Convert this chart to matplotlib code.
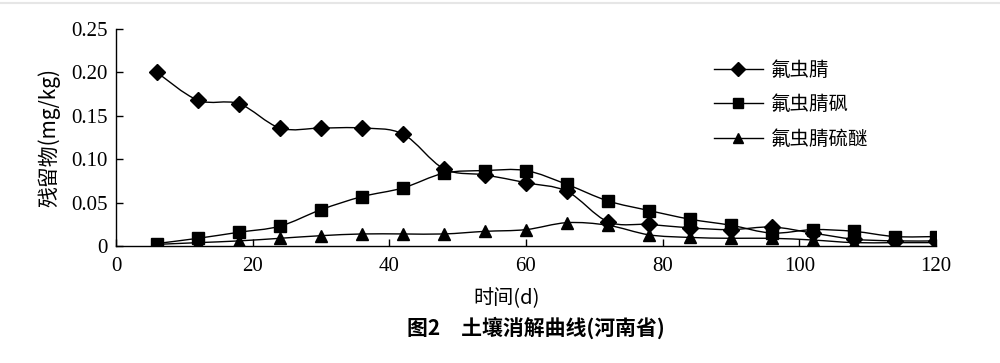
import numpy as np
import matplotlib
matplotlib.use("Agg")
import matplotlib.pyplot as plt
from matplotlib.path import Path
from matplotlib.patches import PathPatch
from matplotlib.lines import Line2D

days = [6, 12, 18, 24, 30, 36, 42, 48, 54, 60, 66, 72, 78, 84, 90, 96, 102, 108, 114, 120]
fipronil = [0.200, 0.168, 0.164, 0.136, 0.136, 0.136, 0.129, 0.089, 0.082, 0.073,
            0.063, 0.028, 0.025, 0.021, 0.019, 0.022, 0.015, 0.008, 0.006, 0.006]
sulfone = [0.003, 0.009, 0.016, 0.023, 0.042, 0.057, 0.067, 0.084, 0.087, 0.087,
           0.071, 0.052, 0.041, 0.031, 0.024, 0.015, 0.019, 0.017, 0.011, 0.011]
sulfide = [0.002, 0.004, 0.006, 0.009, 0.012, 0.014, 0.014, 0.014, 0.017, 0.019,
           0.027, 0.024, 0.013, 0.010, 0.009, 0.009, 0.007, 0.004, 0.004, 0.004]
series_names = ["氟虫腈", "氟虫腈砜", "氟虫腈硫醚"]
xticks = [0, 20, 40, 60, 80, 100, 120]
yticks = [0, 0.05, 0.10, 0.15, 0.20, 0.25]
ytick_labels = ["0", "0.05", "0.10", "0.15", "0.20", "0.25"]

plt.rcParams['font.family'] = ['Liberation Serif', 'Noto Sans CJK SC', 'DejaVu Sans']

fig = plt.figure(figsize=(10, 3.63), dpi=100)
ax = fig.add_axes([0.116, 0.322, 0.82, 0.598])


def smooth_path(x, y, t=0.5):
    # Catmull-Rom style smoothing (like spreadsheet "smoothed line")
    x = np.asarray(x, float)
    y = np.asarray(y, float)
    verts = [(x[0], y[0])]
    codes = [Path.MOVETO]
    n = len(x)
    for i in range(n - 1):
        p0 = (x[max(i - 1, 0)], y[max(i - 1, 0)])
        p1 = (x[i], y[i])
        p2 = (x[i + 1], y[i + 1])
        p3 = (x[min(i + 2, n - 1)], y[min(i + 2, n - 1)])
        c1 = (p1[0] + (p2[0] - p0[0]) * t / 3, p1[1] + (p2[1] - p0[1]) * t / 3)
        c2 = (p2[0] - (p3[0] - p1[0]) * t / 3, p2[1] - (p3[1] - p1[1]) * t / 3)
        verts += [c1, c2, p2]
        codes += [Path.CURVE4] * 3
    return Path(verts, codes)


markers = ['D', 's', '^']
sizes = [8.5, 8.5, 9]
for vals, name, m, ms in zip([fipronil, sulfone, sulfide], series_names, markers, sizes):
    patch = PathPatch(smooth_path(days, vals), facecolor='none', edgecolor='black', lw=1.0,
                      zorder=2)
    ax.add_patch(patch)
    ax.plot(days, vals, linestyle='none', marker=m, ms=ms, color='black', zorder=3)

handles = [Line2D([], [], color='black', lw=1.0, marker=m, ms=ms * 0.85)
           for m, ms in zip(markers, sizes)]
leg = ax.legend(handles, series_names, loc='upper left', bbox_to_anchor=(0.708, 0.94),
                frameon=False, handlelength=2.5, labelspacing=0.7, handletextpad=0.4,
                prop={'family': ['Noto Sans CJK SC'], 'size': 14})

ax.set_xlim(0, 120)
ax.set_ylim(0, 0.25)
ax.set_xticks(xticks)
ax.set_yticks(yticks)
ax.set_yticklabels(ytick_labels)
ax.tick_params(direction='in', length=5, width=1, labelsize=15, pad=6, colors='black')
ax.tick_params(axis='x', pad=8)
for s in ['top', 'right']:
    ax.spines[s].set_visible(False)
for s in ['left', 'bottom']:
    ax.spines[s].set_linewidth(1.0)

ax.set_ylabel("残留物(mg/kg)", fontsize=15, family=['Noto Sans CJK SC', 'Liberation Serif'],
              labelpad=8)
fig.text(0.507, 0.178, "时间(d)", ha='center', va='center', fontsize=14.5,
         family=['Noto Sans CJK SC'])
fig.text(0.536, 0.098, "图2　土壤消解曲线(河南省)", ha='center', va='center', fontsize=15,
         fontweight='bold', family=['Noto Sans CJK SC'])

fig.add_artist(Line2D([0, 1], [1 - 3 / 363, 1 - 3 / 363], color='#e6e6e6', lw=1.5,
                      transform=fig.transFigure))

fig.savefig("out.png", dpi=100)
